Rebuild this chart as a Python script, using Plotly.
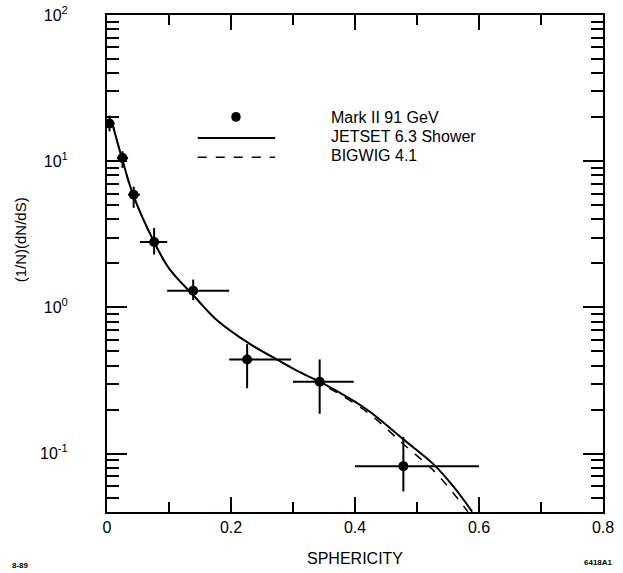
import plotly.graph_objects as go

# ---- data ----
sph = [0.004, 0.025, 0.043, 0.076, 0.139, 0.226, 0.343, 0.478]
val = [18.1, 10.5, 5.9, 2.8, 1.3, 0.44, 0.31, 0.082]
val_hi = [20.5, 11.7, 6.7, 3.5, 1.55, 0.56, 0.44, 0.13]
val_lo = [16.0, 9.0, 4.8, 2.3, 1.12, 0.28, 0.187, 0.055]
sph_lo = [0.0, 0.016, 0.034, 0.053, 0.097, 0.197, 0.300, 0.400]
sph_hi = [0.012, 0.034, 0.053, 0.097, 0.197, 0.297, 0.398, 0.600]

jet_x = [0.008, 0.024, 0.042, 0.076, 0.100, 0.140, 0.177, 0.231,
         0.274, 0.311, 0.343, 0.419, 0.477, 0.526, 0.558, 0.589]
jet_y = [18.5, 10.5, 5.9, 2.8, 1.85, 1.2, 0.82, 0.56,
         0.44, 0.36, 0.31, 0.20, 0.126, 0.085, 0.060, 0.040]

big_x = [0.008, 0.024, 0.042, 0.076, 0.100, 0.140, 0.177, 0.231,
         0.274, 0.311, 0.343, 0.419, 0.477, 0.526, 0.558, 0.582]
big_y = [18.5, 10.5, 5.9, 2.8, 1.85, 1.2, 0.82, 0.56,
         0.44, 0.36, 0.305, 0.193, 0.117, 0.077, 0.054, 0.040]

legend_labels = ["Mark II 91 GeV", "JETSET 6.3 Shower", "BIGWIG 4.1"]

y_tickvals = [0.1, 1, 10, 100]
y_ticktext = ["10<sup>-1</sup>", "10<sup>0</sup>", "10<sup>1</sup>", "10<sup>2</sup>"]
y_minor = [m * d for d in (0.01, 0.1, 1, 10) for m in range(2, 10)]
x_tickvals = [0, 0.2, 0.4, 0.6, 0.8]
x_ticktext = ["0", "0.2", "0.4", "0.6", "0.8"]

FONT = "Liberation Sans, Arial, Helvetica, sans-serif"

fig = go.Figure()

fig.add_trace(go.Scatter(x=jet_x, y=jet_y, mode="lines", line_shape="spline",
                         line=dict(color="black", width=2, smoothing=1.0), showlegend=False))
fig.add_trace(go.Scatter(x=big_x, y=big_y, mode="lines", line_shape="spline",
                         line=dict(color="black", width=1.5, dash="dash", smoothing=1.0),
                         showlegend=False))

fig.add_trace(go.Scatter(
    x=sph, y=val, mode="markers",
    marker=dict(color="black", size=10),
    error_y=dict(type="data", symmetric=False,
                 array=[h - v for h, v in zip(val_hi, val)],
                 arrayminus=[v - l for l, v in zip(val_lo, val)],
                 color="black", thickness=2, width=0),
    error_x=dict(type="data", symmetric=False,
                 array=[h - s for h, s in zip(sph_hi, sph)],
                 arrayminus=[s - l for l, s in zip(sph_lo, sph)],
                 color="black", thickness=2, width=0),
    showlegend=False))

# manual legend (paper coordinates)
lx0, lx1 = 0.183, 0.339
fig.add_shape(type="circle", xref="paper", yref="paper",
              x0=0.2505, x1=0.2695, y0=0.785, y1=0.805,
              fillcolor="black", line=dict(color="black", width=0))
fig.add_shape(type="line", xref="paper", yref="paper",
              x0=lx0, x1=lx1, y0=0.7525, y1=0.7525, line=dict(color="black", width=2))
fig.add_shape(type="line", xref="paper", yref="paper",
              x0=lx0, x1=lx1, y0=0.714, y1=0.714, line=dict(color="black", width=1.5, dash="dash"))
for lab, yy in zip(legend_labels, [0.794, 0.756, 0.717]):
    fig.add_annotation(x=0.448, y=yy, xref="paper", yref="paper", text=lab,
                       showarrow=False, xanchor="left", yanchor="middle",
                       font=dict(family=FONT, size=16, color="black"))

fig.add_annotation(x=-0.175, y=0.547, xref="paper", yref="paper", text="(1/N)(dN/dS)",
                   textangle=-90, showarrow=False, xanchor="center", yanchor="middle",
                   font=dict(family=FONT, size=15, color="black"))
fig.add_annotation(x=0.5, y=-0.094, xref="paper", yref="paper", text="SPHERICITY",
                   showarrow=False, xanchor="center", yanchor="middle",
                   font=dict(family=FONT, size=16, color="black"))
fig.add_annotation(x=-0.175, y=-0.107, xref="paper", yref="paper", text="<b>8-89</b>",
                   showarrow=False, xanchor="center", yanchor="middle",
                   font=dict(family=FONT, size=8, color="black"))
fig.add_annotation(x=0.958, y=-0.101, xref="paper", yref="paper", text="<b>6418A1</b>",
                   showarrow=False, xanchor="left", yanchor="middle",
                   font=dict(family=FONT, size=8, color="black"))

fig.update_xaxes(range=[0, 0.8], tickmode="array", tickvals=x_tickvals, ticktext=x_ticktext,
                 ticks="inside", ticklen=15, tickwidth=2, tickcolor="black",
                 minor=dict(ticks="inside", ticklen=10, tickwidth=2, tickcolor="black", dtick=0.1),
                 showline=True, linecolor="black", linewidth=2, mirror="allticks",
                 showgrid=False, zeroline=False, ticklabelstandoff=0, automargin=False,
                 ticklabeloverflow="allow",
                 tickfont=dict(family=FONT, size=16, color="black"))
fig.update_yaxes(type="log", range=[-1.40, 2.0], tickmode="array",
                 tickvals=y_tickvals, ticktext=y_ticktext,
                 ticks="inside", ticklen=20, tickwidth=2, tickcolor="black",
                 minor=dict(ticks="inside", ticklen=12, tickwidth=2, tickcolor="black",
                            tickmode="array", tickvals=y_minor),
                 showline=True, linecolor="black", linewidth=2, mirror="allticks",
                 showgrid=False, zeroline=False, ticklabelstandoff=34, automargin=False,
                 ticklabeloverflow="allow",
                 tickfont=dict(family=FONT, size=16, color="black"))

fig.update_layout(width=623, height=573, margin=dict(l=107, r=20, t=15, b=61, autoexpand=False),
                  paper_bgcolor="white", plot_bgcolor="white", showlegend=False)

# remove the default 8px page margin so the figure sits at the window's top-left corner
fig.write_html("out.html", config={"displayModeBar": False},
               post_script="document.body.style.margin='0px';document.body.style.overflow='hidden';")
